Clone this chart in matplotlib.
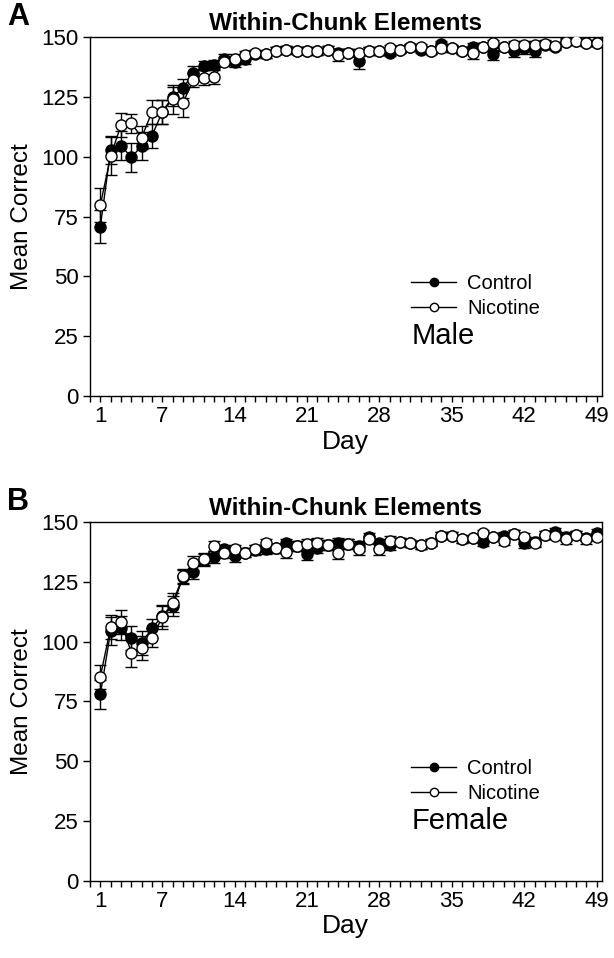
import numpy as np
import matplotlib.pyplot as plt
from matplotlib.lines import Line2D
from matplotlib.ticker import MultipleLocator, FixedLocator

plt.rcParams['font.family'] = ['Liberation Sans', 'DejaVu Sans']

days = np.arange(1, 50)

# Panel A - male
male_ctrl = [70.8, 102.8, 104.6, 99.7, 104.5, 108.8, 118.8, 125.0, 128.6, 135.0,
             138.0, 138.5, 141.0, 139.6, 140.6, 143.0, 142.8, 144.3, 144.7, 144.3,
             144.3, 144.0, 144.7, 143.5, 143.5, 139.8, 144.2, 144.0, 143.5, 144.6,
             145.7, 144.6, 144.2, 147.0, 145.3, 144.3, 146.0, 146.0, 142.9, 145.7,
             144.3, 145.3, 144.3, 146.8, 146.0, 148.0, 148.3, 147.3, 147.3]
male_ctrl_err = [7, 6, 6, 6, 6, 5, 5, 4, 4, 3,
                 2, 2, 2, 2, 2, 1.5, 1.5, 1.5, 1.5, 1.5,
                 1.5, 1.5, 1.5, 1.5, 1.5, 3, 1.5, 1.5, 1.5, 1.5,
                 1.5, 1.5, 1.5, 1.5, 1.5, 1.5, 1.5, 1.5, 2.5, 1.5,
                 2.5, 2.5, 2.5, 1.5, 1.5, 1.5, 1, 1, 1]
male_nic = [79.8, 100.3, 113.2, 114.0, 108.0, 118.8, 118.8, 124.0, 122.6, 132.0,
            133.0, 133.4, 139.7, 140.8, 142.5, 143.2, 142.8, 144.3, 144.7, 144.3,
            144.3, 144.0, 144.7, 142.5, 143.5, 143.5, 144.2, 144.0, 145.3, 144.6,
            145.7, 145.7, 144.2, 145.3, 145.3, 144.3, 143.2, 146.0, 147.4, 145.7,
            146.7, 146.7, 146.7, 147.2, 146.4, 148.0, 148.5, 147.3, 147.3]
male_nic_err = [7, 8, 5, 4, 5, 5, 5, 6, 6, 3,
                3, 3, 2, 2, 1.5, 1.5, 1.5, 1.5, 1.5, 1.5,
                1.5, 1.5, 1.5, 2.5, 1.5, 1.5, 1.5, 1.5, 1.5, 1.5,
                1.5, 1.5, 1.5, 1.5, 1.5, 1.5, 2.5, 1.5, 1.5, 1.5,
                1.5, 1.5, 1.5, 1.5, 1.5, 1, 1, 1, 1]

# Panel B - female
fem_ctrl = [78.0, 104.5, 105.6, 101.7, 99.6, 105.6, 110.7, 114.9, 127.0, 129.3,
            134.0, 135.3, 138.6, 135.8, 137.2, 138.3, 138.6, 139.0, 141.1, 140.0,
            136.5, 139.0, 140.4, 141.4, 140.7, 140.0, 143.9, 141.1, 140.4, 141.8,
            141.1, 140.4, 141.4, 144.2, 144.2, 142.8, 143.2, 141.8, 143.9, 144.2,
            145.0, 141.1, 141.8, 144.6, 146.0, 143.9, 144.6, 143.5, 145.5]
fem_ctrl_err = [6, 6, 5, 5, 5, 4, 4, 4, 3, 3,
                2.5, 2.5, 2, 2.5, 2, 2, 2, 2, 2, 2,
                2.5, 2, 2, 2, 2, 2, 1.5, 2, 2, 1.5,
                1.5, 1.5, 1.5, 1.5, 1.5, 1.5, 1.5, 2, 1.5, 1.5,
                1.5, 2, 2, 1.5, 1.5, 2, 1.5, 1.5, 1.5]
fem_nic = [85.4, 106.0, 108.4, 95.4, 97.5, 101.7, 110.3, 116.3, 127.5, 133.0,
           134.4, 140.0, 136.9, 138.6, 137.2, 138.6, 141.1, 139.0, 137.6, 140.0,
           140.7, 141.4, 140.4, 137.2, 140.7, 138.6, 142.8, 138.6, 142.2, 141.8,
           141.1, 140.4, 141.4, 144.2, 144.2, 142.8, 143.2, 145.3, 143.9, 142.2,
           145.0, 143.9, 141.4, 144.6, 144.2, 142.8, 144.6, 142.8, 143.9]
fem_nic_err = [5, 5, 5, 6, 5, 4, 5, 4, 3, 3,
               2.5, 2, 2, 2, 2, 2, 2, 2, 2.5, 2,
               2, 2, 2, 2.5, 2, 2.5, 1.5, 2.5, 2, 1.5,
               1.5, 1.5, 1.5, 1.5, 1.5, 1.5, 1.5, 1.5, 1.5, 2,
               1.5, 1.5, 2, 1.5, 1.5, 2, 1.5, 2, 1.5]

fig = plt.figure(figsize=(6.14, 9.58), dpi=100)
ax_a = fig.add_axes([0.1466, 0.5866, 0.8334, 0.3748])
ax_b = fig.add_axes([0.1466, 0.0804, 0.8334, 0.3747])


def draw_panel(ax, ctrl, ctrl_err, nic, nic_err, sex, letter):
    ax.errorbar(days, ctrl, yerr=ctrl_err, color='black', lw=1, marker='o', ms=8,
                mfc='black', mec='black', mew=1, capsize=4, elinewidth=1, capthick=1,
                zorder=3)
    ax.errorbar(days, nic, yerr=nic_err, color='black', lw=1, marker='o', ms=8,
                mfc='white', mec='black', mew=1, capsize=4, elinewidth=1, capthick=1,
                zorder=4)
    ax.set_xlim(0, 49.5)
    ax.set_ylim(0, 150)
    ax.xaxis.set_major_locator(FixedLocator([1, 7, 14, 21, 28, 35, 42, 49]))
    ax.xaxis.set_minor_locator(MultipleLocator(1))
    ax.yaxis.set_major_locator(MultipleLocator(25))
    ax.tick_params(axis='both', which='major', direction='out', labelsize=16, length=5, width=1)
    ax.tick_params(axis='x', which='minor', direction='out', length=4, width=1)
    ax.tick_params(axis='x', which='major', length=4, pad=3)
    ax.tick_params(axis='y', which='major', pad=3)
    for sp in ax.spines.values():
        sp.set_linewidth(1)
    ax.set_xlabel('Day', fontsize=19, labelpad=2)
    ax.set_ylabel('Mean Correct', fontsize=17.5, labelpad=6)
    ax.set_title('Within-Chunk Elements', fontsize=17.5, fontweight='bold', pad=5)

    # legend without the error bars in the handles
    handles = [Line2D([], [], color='black', lw=1, marker='o', ms=6,
                      mfc='black', mec='black'),
               Line2D([], [], color='black', lw=1, marker='o', ms=6,
                      mfc='white', mec='black')]
    ax.legend(handles, ['Control', 'Nicotine'], loc='center left',
              bbox_to_anchor=(0.627, 0.279), frameon=False, fontsize=14.5,
              handlelength=2.25, handletextpad=0.55, labelspacing=0.3,
              borderpad=0, borderaxespad=0)
    ax.text(0.629, 0.167, sex, transform=ax.transAxes, fontsize=21, va='center')
    ax.text(-0.162, 1.015, letter, transform=ax.transAxes, fontsize=22,
            fontweight='bold', va='bottom')


draw_panel(ax_a, male_ctrl, male_ctrl_err, male_nic, male_nic_err, 'Male', 'A')
draw_panel(ax_b, fem_ctrl, fem_ctrl_err, fem_nic, fem_nic_err, 'Female', 'B')

fig.savefig('out.png', dpi=100)
